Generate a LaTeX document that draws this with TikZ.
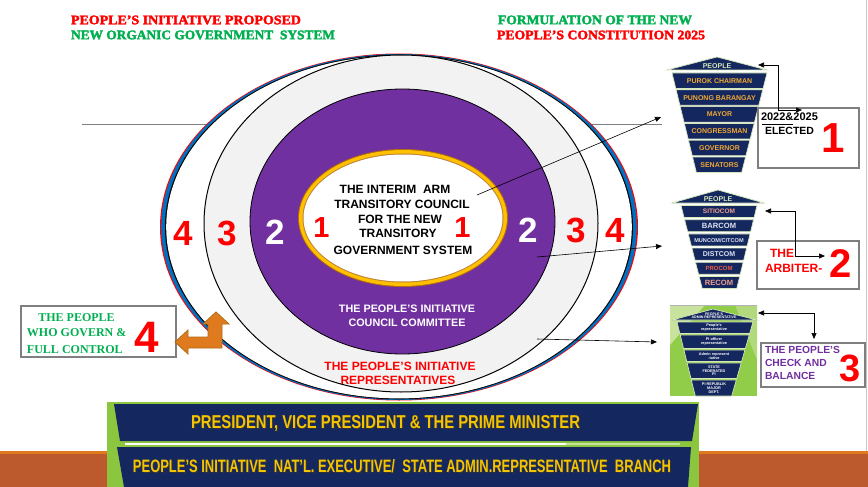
\documentclass[tikz,border=0pt]{standalone}
\usepackage{fontspec}
\setmainfont{Liberation Sans}
\newfontfamily\tms{Liberation Serif}
\newfontfamily\tmsh{Liberation Serif}[FakeBold=2.5]
\usetikzlibrary{arrows.meta}
\definecolor{pired}{HTML}{FF0000}
\definecolor{pigreen}{HTML}{00B050}
\definecolor{pipurple}{HTML}{7030A0}
\definecolor{piblue}{HTML}{0070C0}
\definecolor{pigray}{HTML}{F2F2F2}
\definecolor{pigold}{HTML}{FFC000}
\definecolor{pibrown}{HTML}{B26B12}
\definecolor{pinavy}{HTML}{15275F}
\definecolor{pitext}{HTML}{F0A830}
\definecolor{pipale}{HTML}{D5E8B8}
\definecolor{pibox}{HTML}{7F7F7F}
\definecolor{pibanner}{HTML}{F5C400}
\definecolor{piframe}{HTML}{8CC63F}
\definecolor{piorange}{HTML}{E07A1F}
\definecolor{pibrick}{HTML}{BC5A2E}
\definecolor{pisalmon}{HTML}{F29F8F}
\definecolor{pipaleblue}{HTML}{DCE3F0}
\definecolor{piproc}{HTML}{E8604C}
\definecolor{pigrn}{HTML}{92CD4A}
\definecolor{pigrnlt}{HTML}{C8E39E}
\newcommand\pifs[1]{\fontsize{#1}{#1}\selectfont}
\begin{document}
\begin{tikzpicture}[x=1pt,y=-1pt,
  every node/.style={inner sep=0pt,outer sep=0pt},
  ringnum/.style={font=\pifs{35}\bfseries},
  ctext/.style={font=\pifs{12}\bfseries},
  infobox/.style={draw=pibox,line width=1.5pt,fill=white},
  conn/.style={-{Triangle[length=6pt,width=5pt]},black,line width=0.6pt},
  conn2/.style={{Triangle[length=6pt,width=5pt]}-{Triangle[length=6pt,width=5pt]},black,line width=0.6pt},
  band/.style={fill=pinavy,draw=pipale,line width=0.7pt},
  pyr/.style={font=\pifs{7}\bfseries},
  pyrs/.style={font=\pifs{3.8}\bfseries,text=white,align=center},
]
\useasboundingbox (0,0) rectangle (868,487);
\fill[white] (0,0) rectangle (868,487);

% bottom slide band
\fill[pibrick] (0,453) rectangle (868,487);
\fill[piorange] (0,451) rectangle (868,454);
\draw[gray!45,line width=0.8pt] (866,0) -- (866,451);

% headers
\node[anchor=west,text=pired] (h1) at (71,20) {\resizebox{230pt}{8.7pt}{\tmsh\bfseries PEOPLE’S INITIATIVE PROPOSED}};
\node[anchor=west,text=pigreen] (h2) at (71,35) {\resizebox{264pt}{8.7pt}{\tmsh\bfseries NEW ORGANIC GOVERNMENT\ \ SYSTEM}};
\node[anchor=west,text=pigreen] (h3) at (498,20) {\resizebox{194pt}{8.7pt}{\tmsh\bfseries FORMULATION OF THE NEW}};
\node[anchor=west,text=pired] (h4) at (497,35) {\resizebox{208pt}{8.7pt}{\tmsh\bfseries PEOPLE’S CONSTITUTION 2025}};

% gray line behind the rings
\draw[pibox,line width=0.8pt] (82,124) -- (662,124);

% rings
\fill[pired] (399,227) ellipse [x radius=239, y radius=173.5];
\fill[piblue] (399,227) ellipse [x radius=237.8, y radius=173];
\fill[black] (399,227) ellipse [x radius=234, y radius=172.3];
\fill[white] (399,227) ellipse [x radius=232.8, y radius=171.4];
\filldraw[fill=pigray,draw=black,line width=1pt] (401,223.5) ellipse [x radius=197, y radius=168.5];
\filldraw[fill=pipurple,draw=black,line width=0.8pt] (402.5,221.5) ellipse [x radius=152.5, y radius=132.5];
\fill[pibrown] (403,218) ellipse [x radius=105, y radius=69];
\fill[pigold] (403,218) ellipse [x radius=104, y radius=68];
\fill[pibrown!85] (403,218) ellipse [x radius=100.5, y radius=64.5];
\fill[white] (403,218) ellipse [x radius=99.5, y radius=63.5];

% ring numbers
\node[ringnum,text=pired] (l4) at (183.5,233.5) {4};
\node[ringnum,text=pired] (l3) at (227.5,233.5) {3};
\node[ringnum,text=white] (l2) at (275,232) {2};
\node[font=\pifs{29}\bfseries,text=pired] (l1) at (321.5,227.5) {1};
\node[font=\pifs{29}\bfseries,text=pired] (r1) at (462.5,227.5) {1};
\node[ringnum,text=white] (r2) at (528,230) {2};
\node[ringnum,text=pired] (r3) at (576.5,230) {3};
\node[ringnum,text=pired] (r4) at (615,230) {4};

% centre text
\node[ctext] (c1) at (395,189) {THE INTERIM\ \ ARM};
\node[ctext] (c2) at (402,204) {TRANSITORY COUNCIL};
\node[ctext] (c3) at (400,219) {FOR THE NEW};
\node[ctext] (c4) at (398,233) {TRANSITORY};
\node[ctext] (c5) at (403,250) {GOVERNMENT SYSTEM};

\node[font=\pifs{10.8}\bfseries,text=white] (w1) at (407,309) {THE PEOPLE’S INITIATIVE};
\node[font=\pifs{10.8}\bfseries,text=white] (w2) at (407,323) {COUNCIL COMMITTEE};
\node[ctext,text=pired] (rr1) at (400,366) {THE PEOPLE’S INITIATIVE};
\node[ctext,text=pired] (rr2) at (398,380) {REPRESENTATIVES};

% pyramid 1
\filldraw[band] (717,57) -- (767,70) -- (667,70) -- cycle;
\node[pyr,text=pipale] (p1top) at (717,66) {PEOPLE};
\coordinate (p1r) at (758,65);
\foreach \i/\t in {0/PUROK CHAIRMAN,1/PUNONG BARANGAY,2/MAYOR,3/CONGRESSMAN,4/GOVERNOR,5/SENATORS}{
  \pgfmathsetmacro\ya{73+16.8*\i}
  \pgfmathsetmacro\yb{\ya+15.5}
  \filldraw[band] ({672+(\ya-73)*0.245},\ya) -- ({767-(\ya-73)*0.255},\ya) -- ({767-(\yb-73)*0.255},\yb) -- ({672+(\yb-73)*0.245},\yb) -- cycle;
  \node[pyr,text=pitext] (p1b\i) at (719.5,{\ya+7.9}) {\t};
}

% pyramid 2
\filldraw[band] (718,190) -- (764,203) -- (672,203) -- cycle;
\node[pyr,text=pipale] (p2top) at (718,199.5) {PEOPLE};
\coordinate (p2r) at (765,211);
\foreach \i/\t/\c/\s in {0/SITIOCOM/pisalmon/6.5,1/BARCOM/pipaleblue/7.6,2/MUNCOM\slash CITCOM/pipaleblue/5.6,3/DISTCOM/pipaleblue/7,4/PROCOM/piproc/6,5/RECOM/pisalmon/7.6}{
  \pgfmathsetmacro\ya{205.5+14.2*\i}
  \pgfmathsetmacro\yb{\ya+12}
  \filldraw[band] ({681+(\ya-205.5)*0.256},\ya) -- ({757-(\ya-205.5)*0.244},\ya) -- ({757-(\yb-205.5)*0.244},\yb) -- ({681+(\yb-205.5)*0.256},\yb) -- cycle;
  \node[font=\pifs{\s}\bfseries,text=\c] (p2b\i) at (719,{\ya+6.2}) {\t};
}

% pyramid 3 (green backdrop)
\fill[pigrn] (670,305) rectangle (757,396);
\fill[pigrnlt] (670,305) -- (705,305) -- (670,345) -- cycle;
\fill[pigrnlt!60!pigrn] (757,305) -- (757,360) -- (735,305) -- cycle;
\draw[gray!60,line width=0.6pt] (670,305) -- (757,305);
\filldraw[band] (713,309) -- (757,320) -- (672,320) -- cycle;
\node[pyrs,font=\pifs{3.6}\bfseries] (p3top) at (714,316) {PEOPLE’S\\[-0.6pt]ADMIN REPRESENTATIVE};
\coordinate (p3r) at (758,313);
\foreach \i/\ya/\yb/\t in {0/322/333.5/{People’s\\representative},1/335/348.5/{PI officer\\representative},2/350/361.5/{Admin represent\\-tative},3/363/378.5/{STATE\\FEDERATED\\PI},4/380/396/{PI REPUBLIK\\MAJOR\\DEPT.}}{
  \filldraw[band] ({677+(\ya-322)*0.247},\ya) -- ({753-(\ya-322)*0.288},\ya) -- ({753-(\yb-322)*0.288},\yb) -- ({677+(\yb-322)*0.247},\yb) -- cycle;
  \node[pyrs] (p3b\i) at (714,{(\ya+\yb)/2}) {\t};
}

% centre arrows
\coordinate (a1s) at (477,195);
\coordinate (a1e) at (661,117);
\coordinate (a2s) at (537,257);
\coordinate (a2e) at (662,246);
\coordinate (a3s) at (537,339);
\coordinate (a3e) at (657,342);
\draw[conn] (a1s) -- (a1e);
\draw[conn] (a2s) -- (a2e);
\draw[conn] (a3s) -- (a3e);

% box 1
\node[infobox,minimum width=101pt,minimum height=60pt] (b1) at (808.5,138) {};
\node[anchor=west,font=\pifs{11}\bfseries] (b1t1) at (761,117) {2022\&2025};
\node[anchor=west,font=\pifs{10.5}\bfseries] (b1t2) at (765,131) {ELECTED};
\draw[black,line width=0.6pt] (762,124) -- (793,124);
\node[font=\pifs{42}\bfseries,text=pired] (b1n) at (833.5,138) {1};
\coordinate (b1in) at (802,110);
\draw[conn2] (p1r) -- ++(20,0) |- (b1in);

% box 2
\node[infobox,minimum width=102pt,minimum height=48pt] (b2) at (808,265) {};
\node[anchor=west,font=\pifs{12}\bfseries,text=pired] (b2t1) at (770,253) {THE};
\node[anchor=west,font=\pifs{12}\bfseries,text=pired] (b2t2) at (765,268) {ARBITER-};
\node[font=\pifs{40}\bfseries,text=pired] (b2n) at (840.5,263.5) {2};
\coordinate (b2in) at (825,256);
\draw[conn2] (p2r) -- ++(30,0) |- (b2in);

% box 3
\node[infobox,minimum width=104pt,minimum height=44pt] (b3) at (813,365) {};
\node[anchor=west,font=\pifs{10.3}\bfseries,text=pipurple] (b3t1) at (765,350) {THE PEOPLE’S};
\node[anchor=west,font=\pifs{10.3}\bfseries,text=pipurple] (b3t2) at (765,363) {CHECK AND};
\node[anchor=west,font=\pifs{10.3}\bfseries,text=pipurple] (b3t3) at (765,375.5) {BALANCE};
\node[font=\pifs{38}\bfseries,text=pired] (b3n) at (850,368.5) {3};
\coordinate (b3in) at (814,339);
\draw[conn2] (p3r) -| (b3in);

% box 4
\node[infobox,minimum width=155pt,minimum height=51pt] (b4) at (98.5,331.5) {};
\node[font=\pifs{12}\tms\bfseries,text=pigreen] (b4t1) at (76.5,318) {THE PEOPLE};
\node[anchor=west,font=\pifs{12}\tms\bfseries,text=pigreen] (b4t2) at (27,333) {WHO GOVERN \&};
\node[anchor=west,font=\pifs{12}\tms\bfseries,text=pigreen] (b4t3) at (27,350) {FULL CONTROL};
\node[font=\pifs{44}\bfseries,text=pired] (b4n) at (147,337) {4};

% orange bent arrow
\filldraw[fill=piorange,draw=pibrown,line width=0.8pt]
  (175,342) -- (188,330) -- (188,337) -- (208,337) -- (208,324) -- (203,324)
  -- (216,312) -- (229,324) -- (222,324) -- (222,348) -- (188,348) -- (188,354) -- cycle;

% bottom banner
\fill[piframe] (107,402) rectangle (699,487);
\fill[pinavy] (114,404) -- (698,404) -- (692,441) -- (120,441) -- cycle;
\draw[white,line width=2pt] (125,444) -- (566,444);
\draw[pigrnlt,line width=2pt] (566,444) -- (680,444);
\fill[pinavy] (117,447) -- (691,447) -- (688,487) -- (124,487) -- cycle;
\node[text=black!80] (bt1s) at (386.5,424) {\resizebox{389pt}{13pt}{\bfseries PRESIDENT, VICE PRESIDENT \& THE PRIME MINISTER}};
\node[text=pibanner] (bt1) at (385.5,423) {\resizebox{389pt}{13pt}{\bfseries PRESIDENT, VICE PRESIDENT \& THE PRIME MINISTER}};
\node[text=black!80] (bt2s) at (403,467) {\resizebox{538pt}{13pt}{\bfseries PEOPLE’S INITIATIVE\ \ NAT’L. EXECUTIVE/\ \ STATE ADMIN.REPRESENTATIVE\ \ BRANCH}};
\node[text=pibanner] (bt2) at (402,466) {\resizebox{538pt}{13pt}{\bfseries PEOPLE’S INITIATIVE\ \ NAT’L. EXECUTIVE/\ \ STATE ADMIN.REPRESENTATIVE\ \ BRANCH}};
\end{tikzpicture}
\end{document}
